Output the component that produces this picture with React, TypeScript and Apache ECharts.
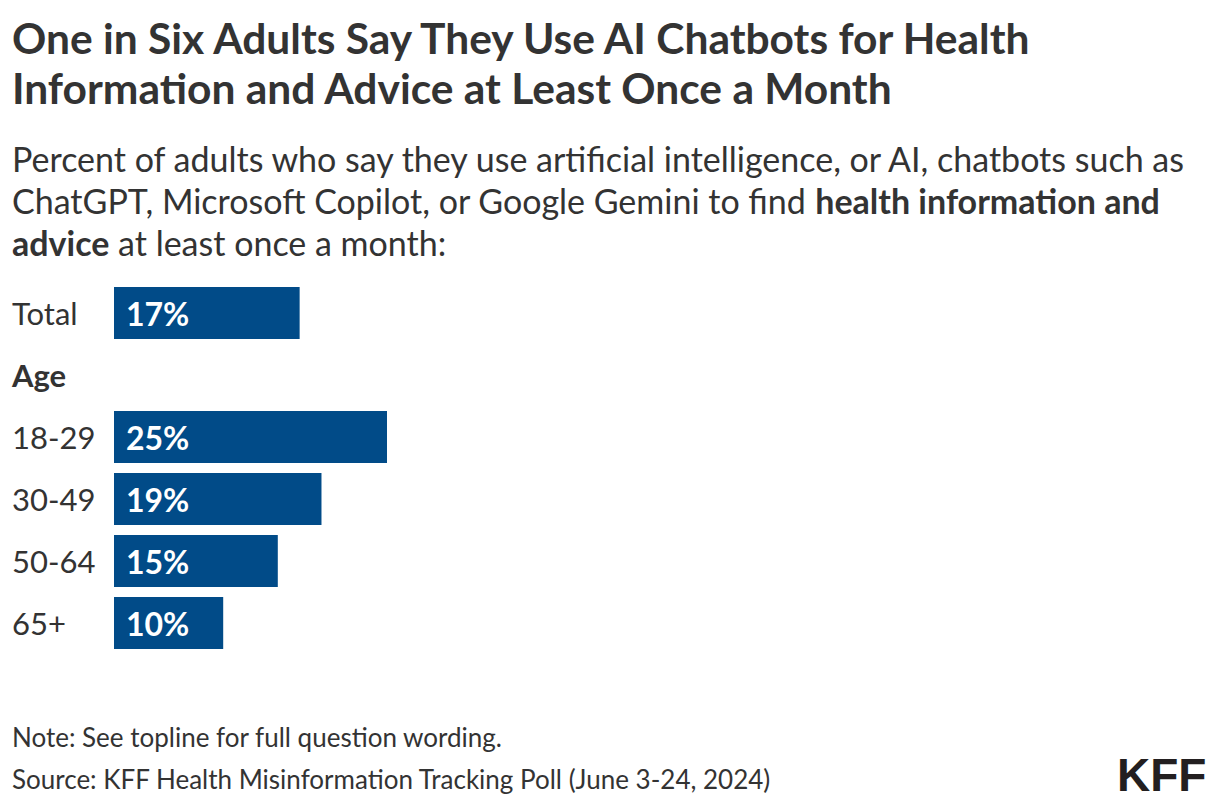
import React, { useEffect, useRef } from "react";
import * as echarts from "echarts";

const categories = ["Total", "Age", "18-29", "30-49", "50-64", "65+"];
const values: (number | null)[] = [17, null, 25, 19, 15, 10];
const titleLines = [
  "One in Six Adults Say They Use AI Chatbots for Health",
  "Information and Advice at Least Once a Month",
];
const noteText = "Note: See topline for full question wording.";
const sourceText = "Source: KFF Health Misinformation Tracking Poll (June 3-24, 2024)";

const FONT = "Lato";
const DARK = "#333333";
const BAR = "#014b88";

export default function App() {
  const ref = useRef<HTMLDivElement>(null);
  useEffect(() => {
    const chart = echarts.init(ref.current!, null, { renderer: "svg" });
    chart.setOption({
      animation: false,
      backgroundColor: "#ffffff",
      textStyle: { fontFamily: FONT },
      grid: { left: 114, right: 14, top: 282, bottom: 156, containLabel: false },
      xAxis: {
        type: "value",
        min: 0,
        max: 100,
        show: false,
      },
      yAxis: {
        type: "category",
        inverse: true,
        data: categories,
        axisLine: { show: false },
        axisTick: { show: false },
        splitLine: { show: false },
        axisLabel: {
          align: "left",
          margin: 102,
          color: DARK,
          fontFamily: FONT,
          fontSize: 31,
          formatter: (v: string) => (v === "Age" ? "{b|" + v + "}" : v),
          rich: {
            b: { fontWeight: "bold", fontSize: 31, color: DARK, fontFamily: FONT },
          },
        },
      },
      series: [
        {
          type: "bar",
          data: values,
          barCategoryGap: "16%",
          itemStyle: { color: BAR },
          label: {
            show: true,
            position: "insideLeft",
            distance: 12,
            formatter: "{c}%",
            color: "#ffffff",
            fontWeight: "bold",
            fontSize: 32,
            fontFamily: FONT,
          },
        },
      ],
      graphic: [
        {
          type: "text",
          left: 12,
          top: 12,
          style: {
            text: titleLines.join("\n"),
            font: `bold 42.5px ${FONT}`,
            fill: DARK,
            lineHeight: 50,
          },
        },
        {
          type: "text",
          left: 12,
          top: 137,
          style: {
            text:
              "Percent of adults who say they use artificial intelligence, or AI, chatbots such as\n" +
              "ChatGPT, Microsoft Copilot, or Google Gemini to find {b|health information and}\n" +
              "{b|advice} at least once a month:",
            font: `34px ${FONT}`,
            fill: DARK,
            lineHeight: 42,
            rich: {
              b: { fontWeight: "bold", fontSize: 34, fontFamily: FONT, fill: DARK, lineHeight: 42 },
            },
          },
        },
        {
          type: "text",
          left: 12,
          top: 724,
          style: { text: noteText, font: `26px ${FONT}`, fill: DARK },
        },
        {
          type: "text",
          left: 12,
          top: 766,
          style: { text: sourceText, font: `26px ${FONT}`, fill: DARK },
        },
        {
          type: "text",
          left: 1117,
          top: 752,
          style: { text: "KFF", font: `bold 46px "Liberation Sans"`, fill: "#231f20" },
        },
      ],
    });
    return () => chart.dispose();
  }, []);
  return (
    <div
      ref={ref}
      style={{ position: "absolute", left: 0, top: 0, width: 1220, height: 810 }}
    />
  );
}
